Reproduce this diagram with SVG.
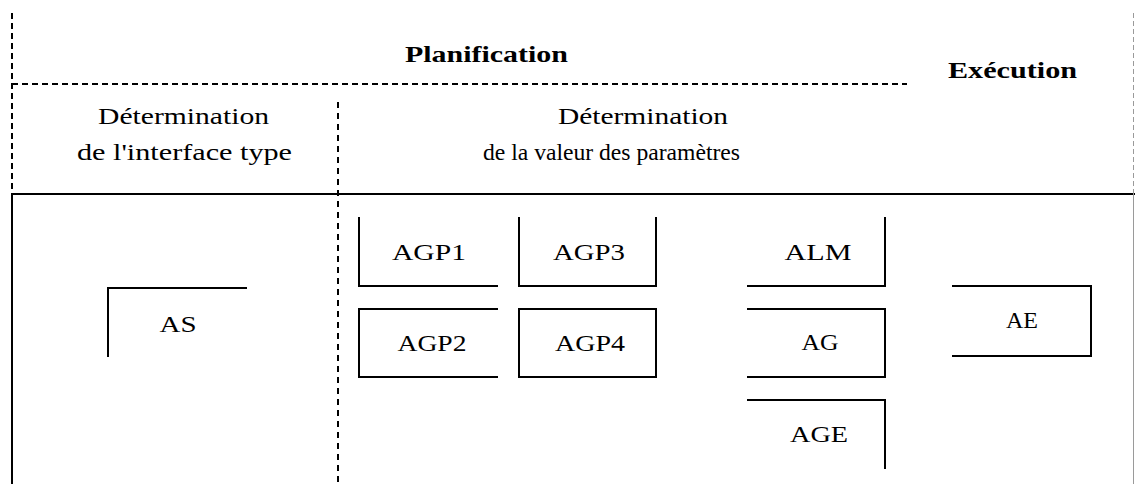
<svg xmlns="http://www.w3.org/2000/svg" width="1135" height="484" viewBox="0 0 1135 484">
<style>
.bg{fill:#ffffff}
.ln{fill:none;stroke:#000;stroke-width:2;stroke-linecap:square}
.dash{fill:none;stroke:#000;stroke-width:2;stroke-dasharray:6 4}
.dashv{fill:none;stroke:#000;stroke-width:2;stroke-dasharray:6 5}
.edge{fill:none;stroke:#9a9a9a;stroke-width:1;stroke-dasharray:5 3}
.edges{fill:none;stroke:#9a9a9a;stroke-width:1}
.hd{font-family:"Liberation Serif","Times New Roman",serif;font-weight:bold;font-size:24px;fill:#000}
.tx{font-family:"Liberation Serif","Times New Roman",serif;font-size:24px;fill:#000}
.lb{font-family:"Liberation Serif","Times New Roman",serif;font-size:24px;fill:#000;text-anchor:middle}
</style>
<rect class="bg" x="0" y="0" width="1135" height="484"/>
<g id="frame">
  <line class="dash" x1="12" y1="13" x2="12" y2="194"/>
  <line class="dash" x1="12" y1="84" x2="907" y2="84"/>
  <line class="dashv" x1="338" y1="102" x2="338" y2="484"/>
  <line class="ln" x1="12" y1="194" x2="1134" y2="194"/>
  <line class="ln" x1="12" y1="194" x2="12" y2="484"/>
  <line class="edge" x1="1133.5" y1="13" x2="1133.5" y2="194"/>
  <line class="edges" x1="1133.5" y1="194" x2="1133.5" y2="484"/>
</g>
<g id="headers">
  <text class="hd" x="405" y="62" textLength="163" lengthAdjust="spacingAndGlyphs">Planification</text>
  <text class="hd" x="948" y="78" textLength="129" lengthAdjust="spacingAndGlyphs">Exécution</text>
  <text class="tx" x="98" y="124" textLength="171" lengthAdjust="spacingAndGlyphs">Détermination</text>
  <text class="tx" x="77" y="160" textLength="215" lengthAdjust="spacingAndGlyphs">de l'interface type</text>
  <text class="tx" x="558" y="124" textLength="170" lengthAdjust="spacingAndGlyphs">Détermination</text>
  <text class="tx" x="483" y="160" textLength="257" lengthAdjust="spacingAndGlyphs">de la valeur des paramètres</text>
</g>
<g id="connectors"></g>
<g id="AS">
  <path class="ln" d="M246,288 H108 V356"/>
  <text class="lb" x="178" y="332" textLength="37" lengthAdjust="spacingAndGlyphs">AS</text>
</g>
<g id="AGP1">
  <path class="ln" d="M359,218 V286 H497"/>
  <text class="lb" x="429" y="260" textLength="74" lengthAdjust="spacingAndGlyphs">AGP1</text>
</g>
<g id="AGP3">
  <path class="ln" d="M519,218 V286 H656 V218"/>
  <text class="lb" x="589" y="260" textLength="72" lengthAdjust="spacingAndGlyphs">AGP3</text>
</g>
<g id="AGP2">
  <path class="ln" d="M497,309 H359 V377 H497"/>
  <text class="lb" x="432" y="351" textLength="69" lengthAdjust="spacingAndGlyphs">AGP2</text>
</g>
<g id="AGP4">
  <rect class="ln" x="519" y="309" width="137" height="68"/>
  <text class="lb" x="590" y="351" textLength="70" lengthAdjust="spacingAndGlyphs">AGP4</text>
</g>
<g id="ALM">
  <path class="ln" d="M748,286 H885 V218"/>
  <text class="lb" x="818" y="260" textLength="67" lengthAdjust="spacingAndGlyphs">ALM</text>
</g>
<g id="AG">
  <path class="ln" d="M748,309 H885 V377 H748"/>
  <text class="lb" x="820" y="350" textLength="37" lengthAdjust="spacingAndGlyphs">AG</text>
</g>
<g id="AGE">
  <path class="ln" d="M748,400 H885 V468"/>
  <text class="lb" x="819" y="442" textLength="58" lengthAdjust="spacingAndGlyphs">AGE</text>
</g>
<g id="AE">
  <path class="ln" d="M953,286 H1091 V356 H953"/>
  <text class="lb" x="1022" y="328" textLength="32" lengthAdjust="spacingAndGlyphs">AE</text>
</g>
</svg>
